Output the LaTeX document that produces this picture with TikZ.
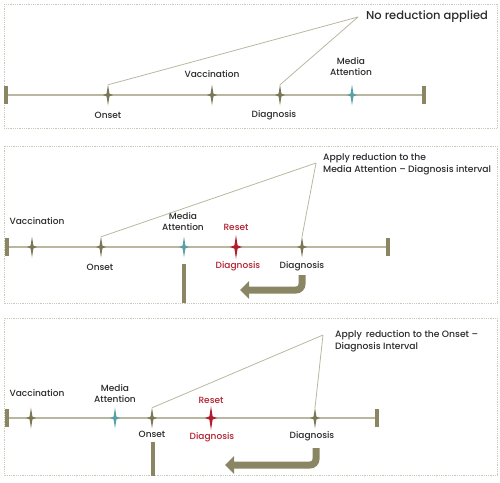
\documentclass[tikz,border=0pt]{standalone}
\usepackage{fontspec}
\setmainfont{Poppins}[UprightFont=* Medium]
\usetikzlibrary{arrows.meta}

\definecolor{lineol}{HTML}{B9B7A0}
\definecolor{barol}{HTML}{8A8663}
\definecolor{starol}{HTML}{7A7656}
\definecolor{starteal}{HTML}{5A9EA6}
\definecolor{starred}{HTML}{B01E2E}
\definecolor{frameg}{HTML}{C9C9B8}
\definecolor{txtg}{HTML}{2A2A2A}

\tikzset{
  spark/.pic={\fill (0,-10.5) -- (1.4,-1.4) -- (5,0) -- (1.4,1.4) -- (0,10.5) -- (-1.4,1.4) -- (-5,0) -- (-1.4,-1.4) -- cycle;},
  bigspark/.pic={\fill (0,-12) -- (1.6,-1.6) -- (6,0) -- (1.6,1.6) -- (0,12) -- (-1.6,1.6) -- (-6,0) -- (-1.6,-1.6) -- cycle;},
  evt/.style={minimum width=10pt, minimum height=20pt, inner sep=0pt},
  lbl/.style={font=\fontsize{9}{11}\selectfont, text=txtg, align=center, inner sep=0pt},
  redlbl/.style={lbl, text=starred},
  note/.style={font=\fontsize{9.2}{12.5}\selectfont, text=txtg, align=left, anchor=west, inner sep=0pt},
  panel/.style={draw=frameg, densely dotted, line width=0.8pt},
  tline/.style={draw=lineol, line width=1.2pt},
  endbar/.style={fill=barol},
  callout/.style={draw=lineol, line width=0.8pt},
  backarrow/.style={draw=barol, line width=7pt, rounded corners=6pt, -{Triangle[width=17pt,length=9pt]}},
}

\begin{document}
\begin{tikzpicture}[x=1pt, y=-1pt]
  \useasboundingbox (0,0) rectangle (500,482);

  % panel 1: no reduction
  \draw[panel] (4,4) rectangle (497,128);
  \draw[tline] (6,95) -- (424,95);
  \fill[endbar] (4,86) rectangle (8,104);
  \fill[endbar] (422,86) rectangle (426,104);
  \node[evt] (on1) at (108,95) {};
  \node[evt] (va1) at (212,95) {};
  \node[evt] (di1) at (280,95) {};
  \node[evt] (me1) at (352,95) {};
  \pic[fill=starol] at (on1) {spark};
  \pic[fill=starol] at (va1) {spark};
  \pic[fill=starol] at (di1) {spark};
  \pic[fill=starteal] at (me1) {spark};
  \node[lbl] at (108,115) {Onset};
  \node[lbl] at (212,74) {Vaccination};
  \node[lbl] at (274,115) {Diagnosis};
  \node[lbl] at (351,67) {Media\\Attention};
  \coordinate (ap1) at (358,17);
  \node[note, font=\fontsize{11.5}{13}\selectfont] at (366,17) {No reduction applied};
  \draw[callout] (ap1) -- (on1.north);
  \draw[callout] (ap1) -- (di1.north);

  % panel 2: media attention - diagnosis
  \draw[panel] (4,146) rectangle (497,303);
  \draw[tline] (7,247) -- (388,247);
  \fill[endbar] (5,238) rectangle (9,256);
  \fill[endbar] (386,238) rectangle (390,256);
  \node[evt] (va2) at (32,247) {};
  \node[evt] (on2) at (101,247) {};
  \node[evt] (me2) at (184,247) {};
  \node[evt] (re2) at (236,247) {};
  \node[evt] (di2) at (302,247) {};
  \pic[fill=starol] at (va2) {spark};
  \pic[fill=starol] at (on2) {spark};
  \pic[fill=starteal] at (me2) {spark};
  \pic[fill=starred] at (re2) {bigspark};
  \pic[fill=starol] at (di2) {spark};
  \node[lbl] at (37,221) {Vaccination};
  \node[lbl] at (100,267) {Onset};
  \node[lbl] at (183,222) {Media\\Attention};
  \node[redlbl] at (236,227) {Reset};
  \node[redlbl] at (238,266) {Diagnosis};
  \node[lbl] at (302,266) {Diagnosis};
  \fill[endbar] (182,264) rectangle (186,303);
  \coordinate (ap2) at (316,163);
  \node[note] at (323,164) {Apply reduction to the\\Media Attention -- Diagnosis interval};
  \draw[callout] (ap2) -- (on2.north);
  \draw[callout] (ap2) -- (di2.north);
  \coordinate (ar2a) at (302,275);
  \coordinate (ar2b) at (240,290);
  \draw[backarrow] (ar2a) |- (ar2b);

  % panel 3: onset - diagnosis
  \draw[panel] (4,318) rectangle (497,475);
  \draw[tline] (7,418) -- (377,418);
  \fill[endbar] (5,409) rectangle (9,427);
  \fill[endbar] (375,409) rectangle (379,427);
  \node[evt] (va3) at (31,418) {};
  \node[evt] (me3) at (115,418) {};
  \node[evt] (on3) at (152,418) {};
  \node[evt] (re3) at (211,418) {};
  \node[evt] (di3) at (315,418) {};
  \pic[fill=starol] at (va3) {spark};
  \pic[fill=starteal] at (me3) {spark};
  \pic[fill=starol] at (on3) {spark};
  \pic[fill=starred] at (re3) {bigspark};
  \pic[fill=starol] at (di3) {spark};
  \node[lbl] at (37,393) {Vaccination};
  \node[lbl] at (115,394) {Media\\Attention};
  \node[lbl] at (152,434) {Onset};
  \node[redlbl] at (211,400) {Reset};
  \node[redlbl] at (212,437) {Diagnosis};
  \node[lbl] at (312,436) {Diagnosis};
  \fill[endbar] (151,442) rectangle (155,476);
  \coordinate (ap3) at (323,335);
  \node[note] at (335,341) {Apply\, reduction to the Onset --\\Diagnosis Interval};
  \draw[callout] (ap3) -- (on3.north);
  \draw[callout] (ap3) -- (di3.north);
  \coordinate (ar3a) at (316,448);
  \coordinate (ar3b) at (225,465);
  \draw[backarrow] (ar3a) |- (ar3b);
\end{tikzpicture}
\end{document}
